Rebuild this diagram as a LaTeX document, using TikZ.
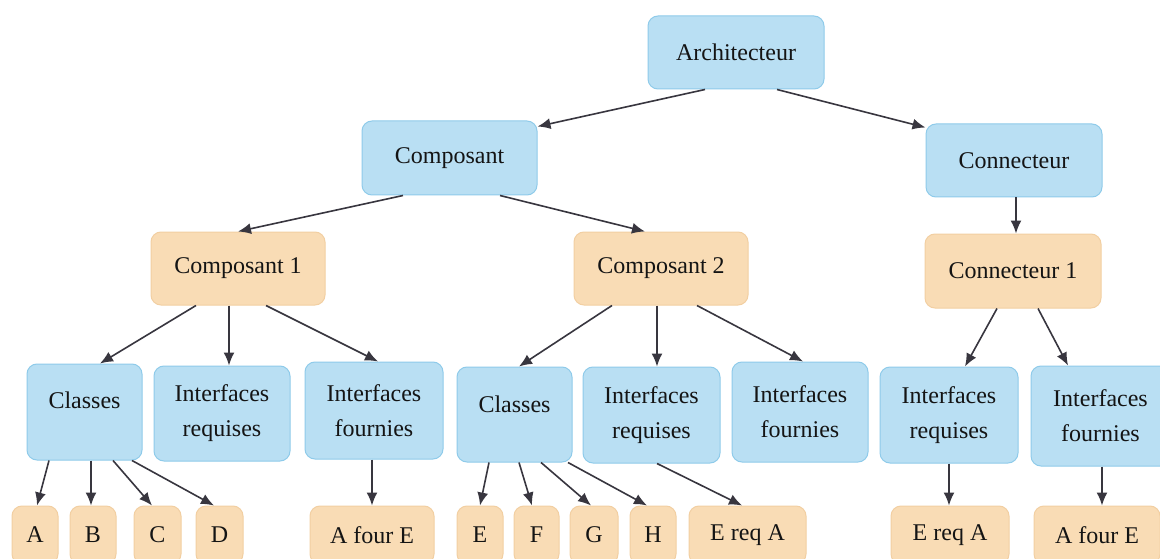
\documentclass[tikz,border=0pt]{standalone}
\usepackage{fontspec}
\setmainfont{Liberation Serif}
\usetikzlibrary{arrows.meta}
\definecolor{bluefill}{HTML}{B9DFF3}
\definecolor{blueline}{HTML}{8FCBEA}
\definecolor{orfill}{HTML}{F9DCB5}
\definecolor{orline}{HTML}{F2CFA2}
\definecolor{arrowc}{HTML}{38363F}
\tikzset{
  box/.style={rounded corners=10pt, line width=1pt, inner sep=0pt, align=center,
    font=\fontsize{24}{35}\selectfont, text=black!92},
  bluebox/.style={box, fill=bluefill, draw=blueline},
  orbox/.style={box, fill=orfill, draw=orline},
  leaf/.style={orbox, minimum height=58pt},
  link/.style={draw=arrowc, line width=1.6pt, -{Latex[length=13pt,width=11pt]}},
}
\begin{document}
\begin{tikzpicture}[x=1pt,y=-1pt]
\useasboundingbox (0,0) rectangle (1160,559);
\clip (0,0) rectangle (1160,559);
\fill[white] (0,0) rectangle (1160,559);

% upper levels
\node[bluebox, minimum width=176pt, minimum height=73pt] (arch) at (736,52.5) {Architecteur};
\node[bluebox, minimum width=175pt, minimum height=74pt] (comp) at (449.5,158) {Composant};
\node[bluebox, minimum width=176pt, minimum height=73pt] (conn) at (1014,160.5) {Connecteur};
\node[orbox, minimum width=174pt, minimum height=73pt] (c1) at (238,268.5) {Composant 1};
\node[orbox, minimum width=174pt, minimum height=73pt] (c2) at (661,268.5) {Composant 2};
\node[orbox, minimum width=176pt, minimum height=74pt] (cn1) at (1013,271) {Connecteur 1};

% parts
\node[bluebox, minimum width=115pt, minimum height=96pt] (cl1) at (84.5,412) {\raisebox{12pt}[\height][\depth]{Classes}};
\node[bluebox, minimum width=136pt, minimum height=95pt] (ir1) at (222,413.5) {Interfaces\\requises};
\node[bluebox, minimum width=138pt, minimum height=97pt] (if1) at (374,410.5) {Interfaces\\fournies};
\node[bluebox, minimum width=115pt, minimum height=95pt] (cl2) at (514.5,414.5) {\raisebox{10pt}[\height][\depth]{Classes}};
\node[bluebox, minimum width=137pt, minimum height=96pt] (ir2) at (651.5,415) {Interfaces\\requises};
\node[bluebox, minimum width=136pt, minimum height=100pt] (if2) at (800,412) {Interfaces\\fournies};
\node[bluebox, minimum width=138pt, minimum height=96pt] (ir3) at (949,415) {Interfaces\\requises};
\node[bluebox, minimum width=139pt, minimum height=100pt] (if3) at (1100.5,416) {Interfaces\\fournies};

% leaves
\node[leaf, minimum width=46pt] (A) at (35,535) {A};
\node[leaf, minimum width=46pt] (B) at (93,535) {B};
\node[leaf, minimum width=47pt] (C) at (157.5,535) {C};
\node[leaf, minimum width=47pt] (D) at (219.5,535) {D};
\node[leaf, minimum width=124pt] (afe1) at (372,535) {A four E};
\node[leaf, minimum width=46pt] (E) at (480,535) {E};
\node[leaf, minimum width=45pt] (F) at (536.5,535) {F};
\node[leaf, minimum width=48pt] (G) at (594,535) {G};
\node[leaf, minimum width=46pt] (H) at (653,535) {H};
\node[leaf, minimum width=117pt] (era2) at (747.5,535) {E req A};
\node[leaf, minimum width=118pt] (era3) at (950,535) {E req A};
\node[leaf, minimum width=126pt] (afe3) at (1097,535) {A four E};

% connectors
\draw[link] ([xshift=-31pt]arch.south) -- ([yshift=-6pt]comp.north east);
\draw[link] ([xshift=41pt]arch.south) -- ([yshift=-4pt]conn.north west);
\draw[link] ([xshift=-46.5pt]comp.south) -- (c1.north);
\draw[link] ([xshift=50.5pt]comp.south) -- ([xshift=-16pt]c2.north);
\draw[link] ([xshift=2pt]conn.south) -- ([xshift=2pt]conn.south |- cn1.north);

\draw[link] ([xshift=-42pt]c1.south) -- ([xshift=15.5pt]cl1.north);
\draw[link] ([xshift=-9pt]c1.south) -- ([xshift=-9pt]c1.south |- ir1.north);
\draw[link] ([xshift=28pt]c1.south) -- ([xshift=4pt]if1.north);
\draw[link] ([xshift=-49pt]c2.south) -- ([xshift=4.5pt]cl2.north);
\draw[link] ([xshift=-4pt]c2.south) -- ([xshift=-4pt]c2.south |- ir2.north);
\draw[link] ([xshift=36pt]c2.south) -- ([xshift=3pt]if2.north);
\draw[link] ([xshift=-16pt]cn1.south) -- ([xshift=16pt]ir3.north);
\draw[link] ([xshift=25pt]cn1.south) -- ([xshift=-32.5pt]if3.north);

\draw[link] ([xshift=-35.5pt]cl1.south) -- ([xshift=2pt]A.north);
\draw[link] ([xshift=6.5pt]cl1.south) -- ([xshift=6.5pt]cl1.south |- B.north);
\draw[link] ([xshift=28.5pt]cl1.south) -- ([xshift=-5.5pt]C.north);
\draw[link] ([xshift=47.5pt]cl1.south) -- ([xshift=-5.5pt]D.north);
\draw[link] ([xshift=-2pt]if1.south) -- ([xshift=-2pt]if1.south |- afe1.north);
\draw[link] ([xshift=-25.5pt]cl2.south) -- (E.north);
\draw[link] ([xshift=4.5pt]cl2.south) -- ([xshift=-4.5pt]F.north);
\draw[link] ([xshift=26.5pt]cl2.south) -- ([xshift=-3pt]G.north);
\draw[link] ([xshift=53.5pt]cl2.south) -- ([xshift=-6pt]H.north);
\draw[link] ([xshift=5.5pt]ir2.south) -- ([xshift=-5.5pt]era2.north);
\draw[link] (ir3.south) -- (ir3.south |- era3.north);
\draw[link] ([xshift=1.5pt]if3.south) -- ([xshift=1.5pt]if3.south |- afe3.north);
\end{tikzpicture}
\end{document}
